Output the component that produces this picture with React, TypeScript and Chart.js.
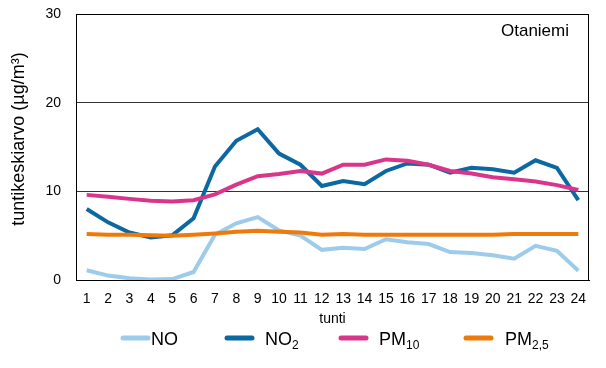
import React, { useEffect, useRef } from "react";
import { Chart, registerables } from "chart.js";

Chart.register(...registerables);

const hours = ["1","2","3","4","5","6","7","8","9","10","11","12","13","14","15","16","17","18","19","20","21","22","23","24"];
const noValues = [1.1, 0.5, 0.2, 0.05, 0.1, 0.9, 5.1, 6.4, 7.1, 5.6, 5.0, 3.4, 3.65, 3.5, 4.6, 4.25, 4.05, 3.15, 3.05, 2.8, 2.4, 3.85, 3.3, 1.05];
const no2Values = [8.0, 6.5, 5.35, 4.8, 5.05, 6.95, 12.8, 15.7, 17.0, 14.25, 13.0, 10.6, 11.15, 10.8, 12.3, 13.15, 13.0, 12.1, 12.65, 12.5, 12.1, 13.5, 12.65, 9.0];
const pm10Values = [9.6, 9.4, 9.15, 8.95, 8.85, 9.0, 9.65, 10.75, 11.7, 11.95, 12.3, 12.0, 13.0, 13.0, 13.6, 13.45, 13.0, 12.3, 12.0, 11.6, 11.35, 11.1, 10.7, 10.15];
const pm25Values = [5.2, 5.1, 5.1, 5.05, 5.0, 5.1, 5.25, 5.45, 5.55, 5.45, 5.35, 5.1, 5.2, 5.1, 5.1, 5.1, 5.1, 5.1, 5.1, 5.1, 5.2, 5.2, 5.2, 5.2];
const yTicks = [0, 10, 20, 30];

const seriesMain = ["NO", "NO", "PM", "PM"];
const seriesSub = ["", "2", "10", "2,5"];
const seriesLabels = ["NO", "NO₂", "PM₁₀", "PM₂,₅"];
const seriesColors = ["#9DCBEC", "#0B68A0", "#D9368B", "#EE7A0B"];

const stationName = "Otaniemi";
const xTitle = "tunti";
const yTitle = "tuntikeskiarvo (µg/m³)";

const FONT = "'Liberation Sans', Arial, sans-serif";

const legendLineX = [121, 225, 339, 464];
const legendTextX = [151, 265, 379, 505];

const extrasPlugin = {
  id: "extras",
  afterDraw(chart: any) {
    const { ctx, chartArea } = chart;
    ctx.save();
    // frame
    ctx.strokeStyle = "#000";
    ctx.lineWidth = 1;
    ctx.strokeRect(Math.round(chartArea.left) + 0.5, Math.round(chartArea.top) + 0.5,
      Math.round(chartArea.right - chartArea.left) - 1, Math.round(chartArea.bottom - chartArea.top));
    // station name
    ctx.fillStyle = "#000";
    ctx.font = `17px ${FONT}`;
    ctx.textAlign = "right";
    ctx.textBaseline = "middle";
    ctx.fillText(stationName, 569, 31);
    // y title
    ctx.save();
    ctx.translate(19, 139);
    ctx.rotate(-Math.PI / 2);
    ctx.textAlign = "center";
    ctx.font = `18px ${FONT}`;
    ctx.fillText(yTitle, 0, 0);
    ctx.restore();
    // legend
    const ly = 338;
    for (let i = 0; i < seriesMain.length; i++) {
      ctx.strokeStyle = seriesColors[i];
      ctx.lineWidth = 5;
      ctx.lineCap = "round";
      ctx.beginPath();
      ctx.moveTo(legendLineX[i] + 2, ly);
      ctx.lineTo(legendLineX[i] + 27, ly);
      ctx.stroke();
      ctx.fillStyle = "#000";
      ctx.textAlign = "left";
      ctx.textBaseline = "alphabetic";
      ctx.font = `18px ${FONT}`;
      ctx.fillText(seriesMain[i], legendTextX[i], ly + 6.5);
      const w = ctx.measureText(seriesMain[i]).width;
      if (seriesSub[i]) {
        ctx.font = `12px ${FONT}`;
        ctx.fillText(seriesSub[i], legendTextX[i] + w, ly + 11);
      }
    }
    ctx.restore();
  },
};

export default function App() {
  const ref = useRef<HTMLCanvasElement>(null);
  useEffect(() => {
    document.body.style.margin = "0";
    const values = [noValues, no2Values, pm10Values, pm25Values];
    const chart = new Chart(ref.current!, {
      type: "line",
      data: {
        labels: hours,
        datasets: values.map((v, i) => ({
          label: seriesLabels[i],
          data: v,
          borderColor: seriesColors[i],
          backgroundColor: seriesColors[i],
          borderWidth: 4,
          pointRadius: 0,
          tension: 0,
          fill: false,
          order: 4 - i,
        })),
      },
      options: {
        animation: false,
        responsive: false,
        devicePixelRatio: 1,
        layout: { padding: { left: 0, right: 17, top: 14, bottom: 0 } },
        plugins: { legend: { display: false }, tooltip: { enabled: false } },
        scales: {
          x: {
            type: "category",
            offset: true,
            grid: { display: false, drawTicks: false },
            border: { display: true, color: "#000", width: 1 },
            ticks: { color: "#000", font: { family: FONT, size: 14 }, padding: 11, maxRotation: 0, autoSkip: false },
            title: { display: true, text: xTitle, color: "#000", font: { family: FONT, size: 14 }, padding: { top: 0, bottom: 40 } },
            afterFit: (s: any) => { s.height = 88; s.paddingLeft = 0; s.paddingRight = 0; },
          },
          y: {
            min: 0,
            max: 30,
            afterBuildTicks: (s: any) => { s.ticks = yTicks.map((v) => ({ value: v })); },
            grid: { color: "#333", lineWidth: 1, drawTicks: false },
            border: { display: true, color: "#000", width: 1 },
            ticks: { color: "#000", font: { family: FONT, size: 14 }, padding: 15 },
            afterFit: (s: any) => { s.width = 76; s.paddingTop = 0; s.paddingBottom = 0; },
          },
        },
      },
      plugins: [extrasPlugin],
    });
    return () => chart.destroy();
  }, []);
  return (
    <div style={{ width: 606, height: 368 }}>
      <canvas ref={ref} width={606} height={368} style={{ width: 606, height: 368, display: "block" }} />
    </div>
  );
}
